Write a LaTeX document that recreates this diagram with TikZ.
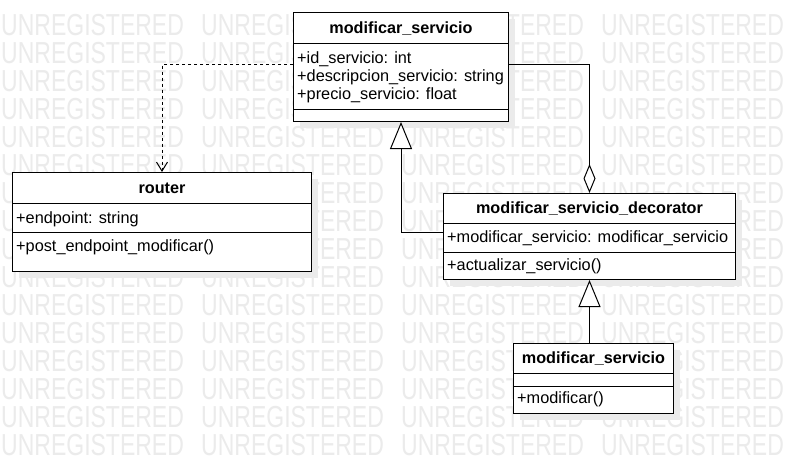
\documentclass[tikz,border=0pt]{standalone}
\usepackage{fontspec}
\usepackage{graphicx}
\setmainfont{Liberation Sans}
\usetikzlibrary{arrows.meta,calc}
\begin{document}
\begin{tikzpicture}[x=1pt,y=-1pt,
  box/.style={draw, line width=1pt, fill=white, inner sep=0pt, anchor=north west},
  shade/.style={fill=black!8, draw=none},
  ttl/.style={font=\bfseries\fontsize{16.2}{18}\selectfont, anchor=base, inner sep=0pt},
  txt/.style={font=\fontsize{16.3}{18}\selectfont, anchor=base west, inner sep=0pt},
  wm/.style={font=\fontsize{23}{26}\selectfont, text=black!8, anchor=base west, inner sep=0pt},
  conn/.style={line width=1pt, draw=black},
  divider/.style={line width=1pt}
]
\useasboundingbox (0,0) rectangle (785,463);
\fill[white] (0,0) rectangle (785,463);
% watermark
\foreach \j in {0,...,15} {
  \foreach \i in {0,...,3} {
    \node[wm] (wm-\i-\j) at ({200*\i+1}, {35+28*\j}) {\scalebox{1}[1.32]{UNREGISTERED}};
  }
}
% shadows
\fill[shade] (300,19) rectangle (515,128);
\fill[shade] (19,179) rectangle (318,278);
\fill[shade] (450,200) rectangle (742,286);
\fill[shade] (520,350) rectangle (680,420);
% boxes
\node[box, minimum width=215pt, minimum height=109pt] (A) at (293,12) {};
\node[box, minimum width=299pt, minimum height=99pt] (R) at (12,172) {};
\node[box, minimum width=292pt, minimum height=86pt] (D) at (443,193) {};
\node[box, minimum width=160pt, minimum height=70pt] (B) at (513,343) {};
% box A contents
\draw[divider] (A.west |- 0,43) -- (A.east |- 0,43);
\draw[divider] (A.west |- 0,109) -- (A.east |- 0,109);
\node[ttl] (A-t) at (A.north |- 0,33) {modificar\_servicio};
\node[txt] (A-a1) at (297,63) {+id\_servicio: int};
\node[txt] (A-a2) at (297,81) {+descripcion\_servicio: string};
\node[txt] (A-a3) at (297,99) {+precio\_servicio: float};
% router contents
\draw[divider] (R.west |- 0,203) -- (R.east |- 0,203);
\draw[divider] (R.west |- 0,232) -- (R.east |- 0,232);
\node[ttl] (R-t) at (R.north |- 0,193) {router};
\node[txt] (R-a1) at (16,223) {+endpoint: string};
\node[txt] (R-m1) at (16,251) {+post\_endpoint\_modificar()};
% decorator contents
\draw[divider] (D.west |- 0,223) -- (D.east |- 0,223);
\draw[divider] (D.west |- 0,252) -- (D.east |- 0,252);
\node[ttl] (D-t) at (D.north |- 0,213) {modificar\_servicio\_decorator};
\node[txt] (D-a1) at (447,242) {+modificar\_servicio: modificar\_servicio};
\node[txt] (D-m1) at (447,270) {+actualizar\_servicio()};
% bottom contents
\draw[divider] (B.west |- 0,373) -- (B.east |- 0,373);
\draw[divider] (B.west |- 0,386) -- (B.east |- 0,386);
\node[ttl] (B-t) at (B.north |- 0,363) {modificar\_servicio};
\node[txt] (B-m1) at (517,403) {+modificar()};
% connectors
\coordinate (depstart) at ($(A.west)+(0,-2.5)$);
\coordinate (aggstart) at ($(A.east)+(0,-3)$);
\coordinate (inhstart) at ($(D.west)+(0,-4)$);
\draw[conn, dash pattern=on 3pt off 3pt, -{Straight Barb[length=9pt,width=11pt]}]
  (depstart) -| (R.north);
\draw[conn, -{Diamond[length=29pt,width=12pt,fill=white]}]
  (aggstart) -| (D.north);
\draw[conn, -{Triangle[length=27pt,width=22pt,fill=white]}]
  (inhstart) -| (A.south);
\draw[conn, -{Triangle[length=27pt,width=22pt,fill=white]}]
  (B.north -| D.south) -- (D.south);
\end{tikzpicture}
\end{document}
